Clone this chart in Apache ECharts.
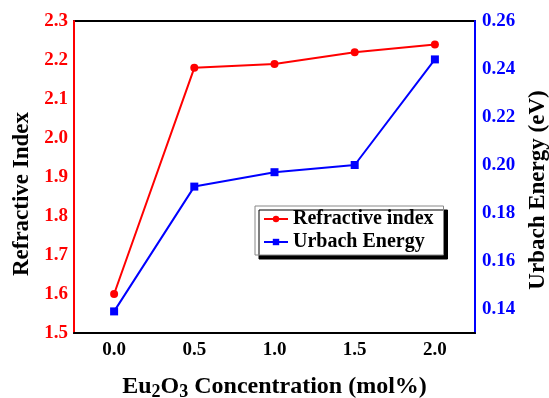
<!DOCTYPE html>
<html>
<head>
<meta charset="utf-8">
<script src="https://cdn.jsdelivr.net/npm/echarts@6/dist/echarts.min.js"></script>
<style>
  html, body { margin: 0; padding: 0; background: #fff; }
  #chart { width: 549px; height: 398px; }
</style>
</head>
<body>
<div id="chart"></div>
<script>
// Eu2O3 concentration (mol%)
const concentrations = ['0.0', '0.5', '1.0', '1.5', '2.0'];
// refractive index (left axis)
const refractiveIndex = [1.60, 2.18, 2.19, 2.22, 2.24];
// Urbach energy in eV (right axis)
const urbachEnergy = [0.139, 0.191, 0.197, 0.200, 0.244];

const serif = '"Liberation Serif", "DejaVu Serif", serif';

const chartDom = document.getElementById('chart');
const myChart = echarts.init(chartDom);

const option = {
  animation: false,
  grid: {
    left: 74,
    right: 74,
    top: 21,
    bottom: 65,
    outerBoundsMode: 'none',
    containLabel: false,
    show: true,
    borderColor: '#000',
    borderWidth: 2,
    backgroundColor: 'transparent'
  },
  legend: {
    orient: 'vertical',
    left: 255,
    top: 206,
    padding: [3, 10, 3, 8],
    itemGap: 3,
    itemWidth: 24,
    itemHeight: 8,
    backgroundColor: '#fff',
    borderColor: '#888',
    borderWidth: 1,
    shadowColor: '#000',
    shadowBlur: 0,
    shadowOffsetX: 4,
    shadowOffsetY: 4,
    textStyle: { fontFamily: serif, fontWeight: 'bold', fontSize: 20, color: '#000' },
    data: ['Refractive index', 'Urbach Energy']
  },
  xAxis: {
    type: 'category',
    data: concentrations,
    boundaryGap: true,
    axisLine: { lineStyle: { color: '#000', width: 2 } },
    axisTick: { show: false },
    axisLabel: { margin: 8, fontFamily: serif, fontWeight: 'bold', fontSize: 19, color: '#000' },
    name: '{a|Eu}{s|2}{a|O}{s|3}{a| Concentration (mol%)}',
    nameLocation: 'middle',
    nameGap: 40,
    nameTextStyle: {
      rich: {
        a: { fontFamily: serif, fontWeight: 'bold', fontSize: 24, color: '#000' },
        s: { fontFamily: serif, fontWeight: 'bold', fontSize: 18, color: '#000', verticalAlign: 'bottom', padding: [10, 0, 0, 0] }
      }
    }
  },
  yAxis: [
    {
      type: 'value',
      min: 1.5,
      max: 2.3,
      interval: 0.1,
      position: 'left',
      splitLine: { show: false },
      axisLine: { show: true, lineStyle: { color: '#ff0000', width: 2 } },
      axisTick: { show: false },
      axisLabel: {
        margin: 6,
        fontFamily: serif, fontWeight: 'bold', fontSize: 19, color: '#ff0000',
        formatter: v => v.toFixed(1)
      },
      name: 'Refractive Index',
      nameLocation: 'middle',
      nameGap: 39,
      nameTextStyle: { fontFamily: serif, fontWeight: 'bold', fontSize: 23, color: '#000', padding: [0, 34, 0, 0] }
    },
    {
      type: 'value',
      min: 0.13,
      max: 0.26,
      interval: 0.01,
      position: 'right',
      splitLine: { show: false },
      axisLine: { show: true, lineStyle: { color: '#0000ff', width: 2 } },
      axisTick: { show: false },
      axisLabel: {
        margin: 7,
        fontFamily: serif, fontWeight: 'bold', fontSize: 19, color: '#0000ff',
        formatter: v => (Math.round(v * 100) % 2 === 0 ? v.toFixed(2) : '')
      },
      name: 'Urbach Energy (eV)',
      nameLocation: 'middle',
      nameGap: 47,
      nameTextStyle: { fontFamily: serif, fontWeight: 'bold', fontSize: 23, color: '#000', padding: [0, 26, 0, 0] }
    }
  ],
  series: [
    {
      name: 'Refractive index',
      type: 'line',
      yAxisIndex: 0,
      data: refractiveIndex,
      symbol: 'circle',
      symbolSize: 8,
      lineStyle: { color: '#ff0000', width: 2 },
      itemStyle: { color: '#ff0000' }
    },
    {
      name: 'Urbach Energy',
      type: 'line',
      yAxisIndex: 1,
      data: urbachEnergy,
      symbol: 'rect',
      symbolSize: 8,
      lineStyle: { color: '#0000ff', width: 2 },
      itemStyle: { color: '#0000ff' }
    }
  ]
};

myChart.setOption(option);
</script>
</body>
</html>
